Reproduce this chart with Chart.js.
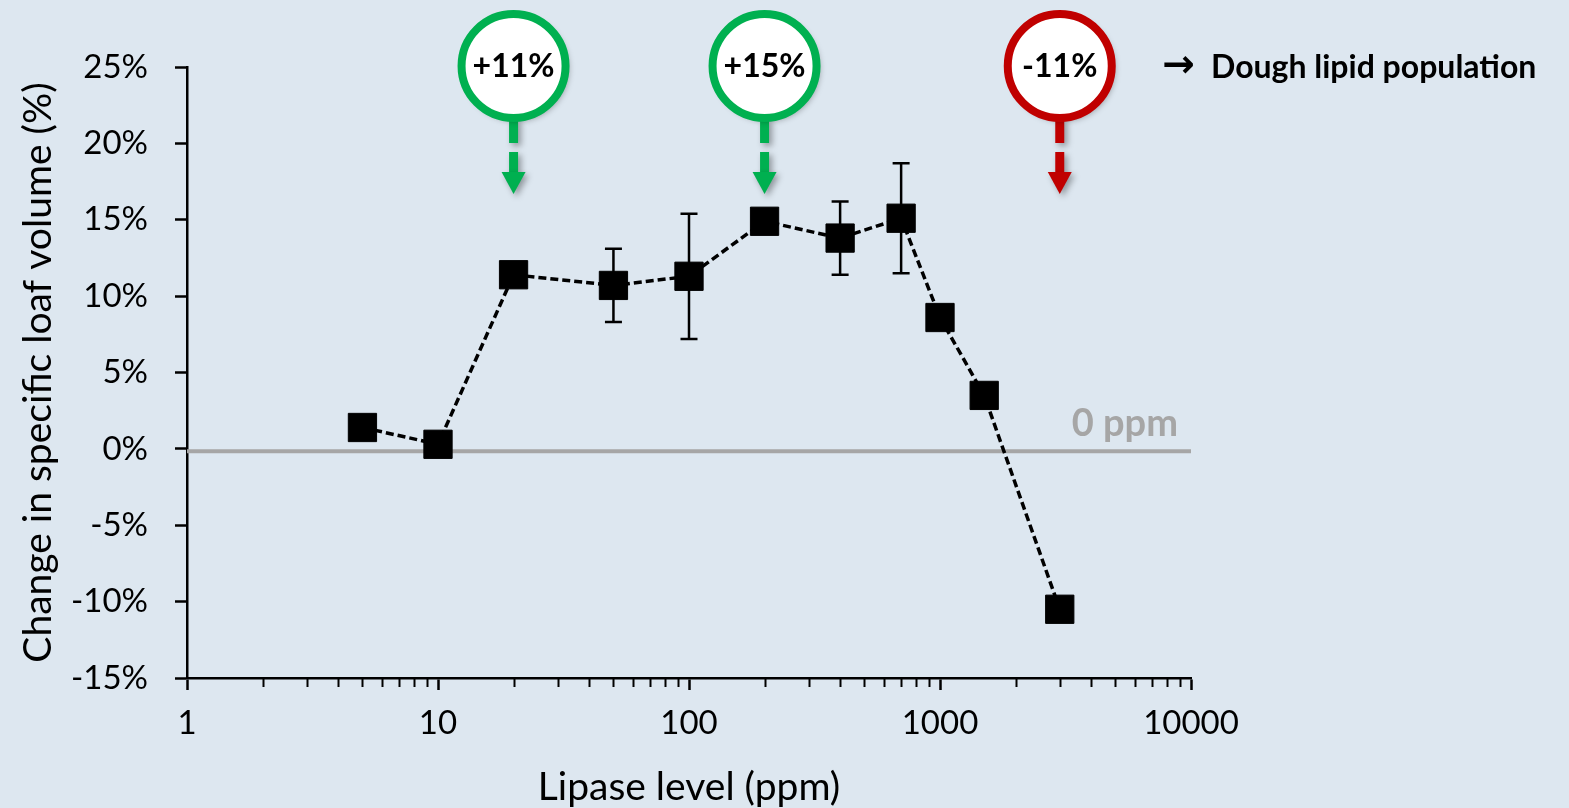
<!DOCTYPE html>
<html>
<head>
<meta charset="utf-8">
<script src="https://cdn.jsdelivr.net/npm/chart.js@4.4.0/dist/chart.umd.min.js"></script>
<style>
  html, body { margin: 0; padding: 0; background: #dde7f0; }
  #wrap { width: 1569px; height: 808px; }
</style>
</head>
<body>
<div id="wrap"><canvas id="lipaseChart" width="1569" height="808"></canvas></div>
<script>
// Lipase level (ppm) vs change in specific loaf volume (%)
const lipaseLevels = [5, 10, 20, 50, 100, 200, 400, 700, 1000, 1500, 3000];
const volumeChange = [1.4, 0.3, 11.4, 10.7, 11.3, 14.9, 13.8, 15.1, 8.6, 3.5, -10.5];
const errorBars    = [0, 0, 0, 2.4, 4.1, 0, 2.4, 3.6, 0, 0, 0];

// reference line for the 0 ppm control
const controlLevel = -0.15;
const controlRange = [1, 10000];

// x ticks (log axis): labels only on decades
const xTickValues = [1, 2, 3, 4, 5, 6, 7, 8, 9,
                     10, 20, 30, 40, 50, 60, 70, 80, 90,
                     100, 200, 300, 400, 500, 600, 700, 800, 900,
                     1000, 2000, 3000, 4000, 5000, 6000, 7000, 8000, 9000, 10000];
const xMajorTicks = [1, 10, 100, 1000, 10000];

// callout bubbles above the curve
const calloutLevels = [20, 200, 3000];
const calloutLabels = ['+11%', '+15%', '-11%'];
const calloutColors = ['#00b050', '#00b050', '#c00000'];

const FONT = 'Lato, "Open Sans", sans-serif';

const isMajor = v => xMajorTicks.includes(v);

// error bars drawn under the markers
const errorBarPlugin = {
    id: 'errorBars',
    beforeDatasetDraw(chart, args) {
        if (args.index !== 1) return;
        const x = chart.scales.x, y = chart.scales.y;
        const ctx = chart.ctx;
        ctx.save();
        ctx.strokeStyle = '#000';
        ctx.lineWidth = 2.5;
        lipaseLevels.forEach((lv, i) => {
            const e = errorBars[i];
            if (!e) return;
            const px = x.getPixelForValue(lv);
            const top = y.getPixelForValue(volumeChange[i] + e);
            const bot = y.getPixelForValue(volumeChange[i] - e);
            ctx.beginPath();
            ctx.moveTo(px, top); ctx.lineTo(px, bot);
            ctx.moveTo(px - 8.5, top); ctx.lineTo(px + 8.5, top);
            ctx.moveTo(px - 8.5, bot); ctx.lineTo(px + 8.5, bot);
            ctx.stroke();
        });
        ctx.restore();
    }
};

// minor tick marks on the log axis (shorter than the decade ticks)
const minorTickPlugin = {
    id: 'minorTicks',
    afterDraw(chart) {
        const x = chart.scales.x;
        const ctx = chart.ctx;
        const y0 = chart.chartArea.bottom;
        ctx.save();
        ctx.strokeStyle = '#000';
        ctx.lineWidth = 2;
        xTickValues.forEach(v => {
            if (isMajor(v)) return;
            const px = Math.round(x.getPixelForValue(v)) + 0.5;
            ctx.beginPath();
            ctx.moveTo(px, y0);
            ctx.lineTo(px, y0 + 9);
            ctx.stroke();
        });
        ctx.restore();
    }
};

// bubbles, arrows and the free text labels
const calloutPlugin = {
    id: 'callouts',
    afterDraw(chart) {
        const x = chart.scales.x, y = chart.scales.y;
        const ctx = chart.ctx;
        const cy = y.getPixelForValue(25) - 1;
        const r = 52;

        calloutLevels.forEach((lv, i) => {
            const cx = x.getPixelForValue(lv);
            const col = calloutColors[i];
            ctx.save();
            ctx.shadowColor = 'rgba(0,0,0,0.35)';
            ctx.shadowBlur = 6;
            ctx.shadowOffsetX = 3;
            ctx.shadowOffsetY = 3;

            // stem + arrow
            ctx.fillStyle = col;
            ctx.fillRect(cx - 4.5, cy + r, 9, 25);
            ctx.fillRect(cx - 4.5, cy + r + 34, 9, 22);
            ctx.beginPath();
            ctx.moveTo(cx - 12, cy + r + 54);
            ctx.lineTo(cx + 12, cy + r + 54);
            ctx.lineTo(cx, cy + r + 76);
            ctx.closePath();
            ctx.fill();

            // bubble
            ctx.beginPath();
            ctx.arc(cx, cy, r, 0, Math.PI * 2);
            ctx.fillStyle = '#fff';
            ctx.fill();
            ctx.shadowColor = 'transparent';
            ctx.lineWidth = 8;
            ctx.strokeStyle = col;
            ctx.stroke();
            ctx.restore();

            ctx.save();
            ctx.fillStyle = '#000';
            ctx.font = 'bold 32px ' + FONT;
            ctx.textAlign = 'center';
            ctx.textBaseline = 'middle';
            ctx.fillText(calloutLabels[i], cx, cy + 1);
            ctx.restore();
        });

        ctx.save();
        ctx.fillStyle = '#000';
        ctx.textBaseline = 'middle';
        ctx.textAlign = 'left';
        ctx.font = 'bold 39px "DejaVu Sans", sans-serif';
        ctx.fillText('\u2192', 1162, cy + 1);
        ctx.font = 'bold 32px ' + FONT;
        ctx.fillText('Dough lipid population', 1211, cy + 2);

        ctx.fillStyle = '#a6a6a6';
        ctx.font = 'bold 38px ' + FONT;
        ctx.textAlign = 'right';
        ctx.textBaseline = 'alphabetic';
        ctx.fillText('0 ppm', x.getPixelForValue(controlRange[1]) - 13, y.getPixelForValue(controlLevel) - 15);
        ctx.restore();
    }
};

const chart = new Chart(document.getElementById('lipaseChart'), {
    type: 'line',
    data: {
        datasets: [{
            label: '0 ppm',
            data: controlRange.map(v => ({ x: v, y: controlLevel })),
            borderColor: '#a6a6a6',
            borderWidth: 4,
            pointRadius: 0,
            order: 2
        }, {
            label: 'Change in specific loaf volume',
            data: lipaseLevels.map((v, i) => ({ x: v, y: volumeChange[i] })),
            borderColor: '#000',
            borderWidth: 3.5,
            borderDash: [8, 4],
            pointStyle: 'rect',
            pointRadius: 20,
            pointBackgroundColor: '#000',
            pointBorderColor: '#000',
            pointBorderWidth: 1,
            tension: 0,
            order: 1
        }]
    },
    options: {
        responsive: false,
        devicePixelRatio: 1,
        animation: false,
        layout: { padding: { top: 67, right: 378, left: 0, bottom: 0 } },
        plugins: {
            legend: { display: false },
            tooltip: { enabled: false }
        },
        scales: {
            x: {
                type: 'logarithmic',
                min: 1,
                max: 10000,
                afterBuildTicks: axis => {
                    axis.ticks = xTickValues.map(v => ({ value: v, major: isMajor(v) }));
                },
                afterFit: axis => { axis.height = 130; },
                border: { color: '#000', width: 2.5 },
                grid: {
                    drawOnChartArea: false,
                    tickLength: 12,
                    tickWidth: 2.5,
                    tickColor: c => (c.tick && isMajor(c.tick.value)) ? '#000' : 'rgba(0,0,0,0)'
                },
                ticks: {
                    autoSkip: false,
                    maxRotation: 0,
                    color: '#000',
                    padding: 14,
                    font: { family: FONT, size: 33 },
                    callback: v => isMajor(v) ? String(v) : ''
                },
                title: {
                    display: true,
                    text: 'Lipase level (ppm)',
                    color: '#000',
                    font: { family: FONT, size: 39 },
                    padding: { top: 0, bottom: -3 }
                }
            },
            y: {
                min: -15,
                max: 25,
                afterFit: axis => { axis.width = 187; },
                border: { color: '#000', width: 2.5 },
                grid: {
                    drawOnChartArea: false,
                    tickLength: 12,
                    tickWidth: 2.5,
                    tickColor: '#000'
                },
                ticks: {
                    stepSize: 5,
                    color: '#000',
                    padding: 27,
                    font: { family: FONT, size: 33 },
                    callback: v => v + '%'
                },
                title: {
                    display: true,
                    text: 'Change in specific loaf volume (%)',
                    color: '#000',
                    font: { family: FONT, size: 39 },
                    padding: { top: 15, bottom: 0 }
                }
            }
        }
    },
    plugins: [errorBarPlugin, minorTickPlugin, calloutPlugin]
});
</script>
</body>
</html>
